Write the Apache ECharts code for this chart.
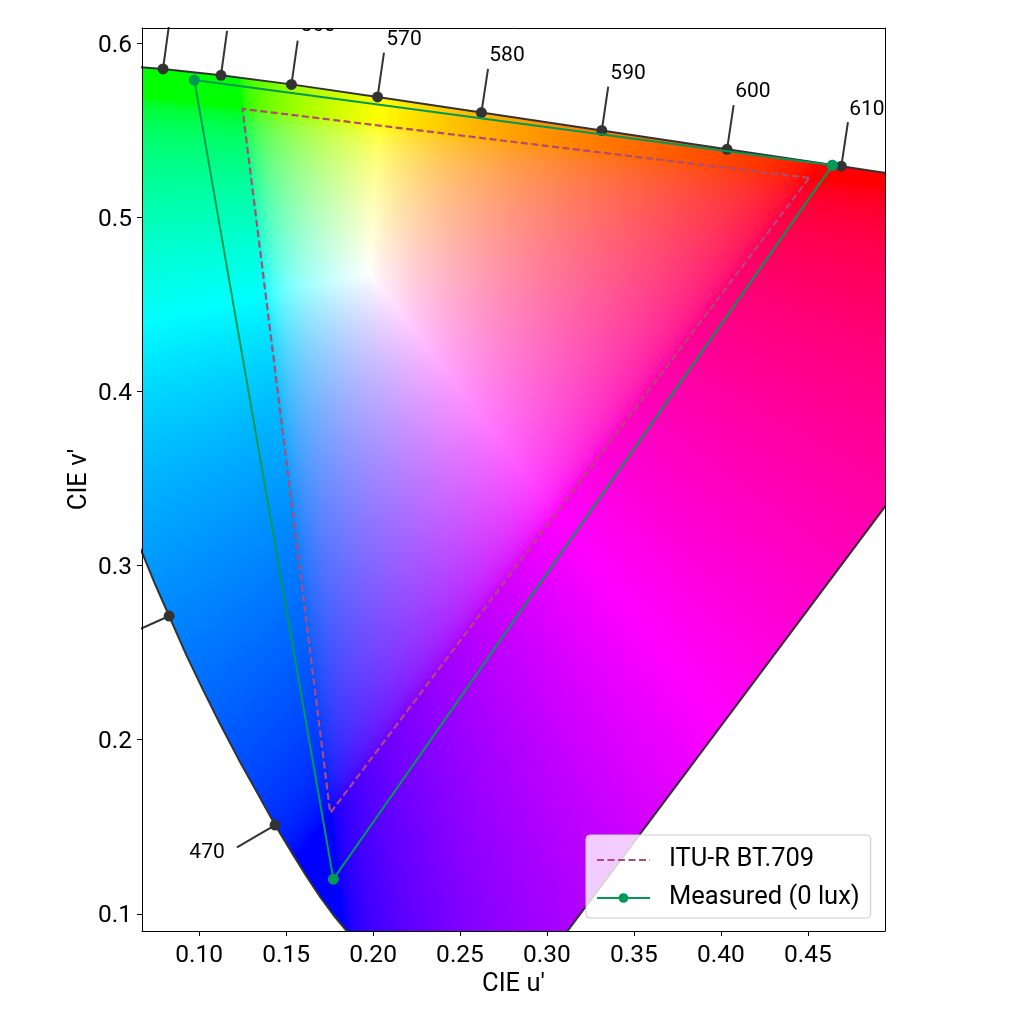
<!DOCTYPE html>
<html>
<head>
<meta charset="utf-8">
<title>CIE u'v' gamut</title>
<script src="https://cdn.jsdelivr.net/npm/echarts@6/dist/echarts.min.js"></script>
<style>
  html, body { margin: 0; padding: 0; background: #fff; }
  #main { width: 1024px; height: 1024px; }
</style>
</head>
<body>
<div id="main"></div>
<script>
const xRange = [0.0672, 0.4943];
const yRange = [0.0901, 0.6090];
const xTicks = [0.1, 0.15, 0.2, 0.25, 0.3, 0.35, 0.4, 0.45];
const yTicks = [0.1, 0.2, 0.3, 0.4, 0.5, 0.6];

// spectral locus (runs past the axes on purpose, the grid clips it)
const locus = [
  [0.0035, 0.5131], [0.0231, 0.5837], [0.0501, 0.5868], [0.0643, 0.5866], [0.0793, 0.5855],
  [0.1126, 0.5818], [0.1531, 0.5766], [0.2026, 0.5694], [0.2623, 0.5604], [0.3315, 0.5501],
  [0.4035, 0.5393], [0.4692, 0.5296], [0.5202, 0.5219], [0.6234, 0.5065], [0.2568, 0.0166],
  [0.2461, 0.0226], [0.2161, 0.0550], [0.2033, 0.0688], [0.1849, 0.0901], [0.1772, 0.0993],
  [0.1695, 0.1098], [0.1619, 0.1213], [0.1542, 0.1337], [0.1437, 0.1510], [0.1332, 0.1699],
  [0.1226, 0.1890], [0.1121, 0.2090], [0.1025, 0.2282], [0.0929, 0.2482], [0.0828, 0.2711],
  [0.0745, 0.2899], [0.0678, 0.3062], [0.0521, 0.3427]
];

const wavelengths = ['540', '550', '560', '570', '580', '590', '600', '610', '470', '480'];
const markerPts = [
  [0.0793, 0.5855], [0.1126, 0.5818], [0.1531, 0.5766], [0.2026, 0.5694], [0.2623, 0.5604],
  [0.3315, 0.5501], [0.4035, 0.5393], [0.4692, 0.5296], [0.1437, 0.1510], [0.0828, 0.2711]
];
const leaderEnds = [
  [0.0828, 0.6113], [0.1161, 0.6073], [0.1567, 0.6017], [0.2063, 0.5949], [0.2661, 0.5855],
  [0.3352, 0.5753], [0.4073, 0.5647], [0.4730, 0.5549], [0.1218, 0.1381], [0.0609, 0.2613]
];
const labelPts = [
  [0.0943, 0.6187], [0.1282, 0.6153], [0.1684, 0.6103], [0.2178, 0.6021], [0.2770, 0.5929],
  [0.3466, 0.5826], [0.4184, 0.5723], [0.4839, 0.5619], [0.1046, 0.1348], [0.0471, 0.2559]
];

const bt709 = [[0.4507, 0.5229], [0.1250, 0.5625], [0.1754, 0.1579], [0.4507, 0.5229]];
const measured = [[0.4640, 0.5301], [0.0973, 0.5791], [0.1772, 0.1199], [0.4640, 0.5301]];

const FONT = 'Roboto, sans-serif';
const GRID = { left: 142, top: 28, width: 743, height: 903 };

function gamma(c) {
  return c <= 0.0031308 ? 12.92 * c : 1.055 * Math.pow(c, 1 / 2.4) - 0.055;
}

// chromaticity to a displayable colour at full brightness
function uvToRgb(u, v) {
  const d = 6 * u - 16 * v + 12;
  const x = 9 * u / d;
  const y = 4 * v / d;
  const X = x / y;
  const Z = (1 - x - y) / y;
  let r = Math.max(0, 3.2406 * X - 1.5372 - 0.4986 * Z);
  let g = Math.max(0, -0.9689 * X + 1.8758 + 0.0415 * Z);
  let b = Math.max(0, 0.0557 * X - 0.2040 + 1.0570 * Z);
  const m = Math.max(r, g, b) || 1;
  return [gamma(r / m) * 255, gamma(g / m) * 255, gamma(b / m) * 255];
}

let gamutCanvas = null;

function buildGamut(api, rect) {
  const canvas = document.createElement('canvas');
  canvas.width = rect.width;
  canvas.height = rect.height;
  const ctx = canvas.getContext('2d');
  const img = ctx.createImageData(rect.width, rect.height);
  for (let j = 0; j < rect.height; j++) {
    for (let i = 0; i < rect.width; i++) {
      const u = xRange[0] + (i + 0.5) / rect.width * (xRange[1] - xRange[0]);
      const v = yRange[1] - (j + 0.5) / rect.height * (yRange[1] - yRange[0]);
      const c = uvToRgb(u, v);
      const k = (j * rect.width + i) * 4;
      img.data[k] = c[0];
      img.data[k + 1] = c[1];
      img.data[k + 2] = c[2];
      img.data[k + 3] = 255;
    }
  }
  ctx.putImageData(img, 0, 0);
  ctx.globalCompositeOperation = 'destination-in';
  ctx.beginPath();
  locus.forEach((p, i) => {
    const pt = api.coord(p);
    if (i === 0) ctx.moveTo(pt[0] - rect.x, pt[1] - rect.y);
    else ctx.lineTo(pt[0] - rect.x, pt[1] - rect.y);
  });
  ctx.closePath();
  ctx.fill();
  return canvas;
}

// leader lines, broken apart by null points
const leaders = [];
markerPts.forEach((p, i) => {
  leaders.push(p, leaderEnds[i], [null, null]);
});

const chart = echarts.init(document.getElementById('main'), null, { renderer: 'canvas' });

function valueAxis(position, range, ticks, digits, name, labelExtra, extra) {
  return Object.assign({
    type: 'value',
    position: position,
    min: range[0],
    max: range[1],
    z: 10,
    name: name,
    nameLocation: 'middle',
    nameMoveOverlap: false,
    nameTextStyle: { fontFamily: FONT, fontSize: 25.5, color: '#000' },
    splitLine: { show: false },
    axisLine: { show: true, onZero: false, lineStyle: { color: '#000', width: 1 } },
    axisTick: { show: true, length: 5, customValues: ticks, lineStyle: { color: '#000', width: 1 } },
    axisLabel: Object.assign({
      show: true,
      customValues: ticks,
      fontFamily: FONT,
      fontSize: 24.5,
      color: '#000',
      formatter: (val) => Number(val).toFixed(digits)
    }, labelExtra)
  }, extra);
}

function frameAxis(position, range) {
  return {
    type: 'value',
    position: position,
    min: range[0],
    max: range[1],
    z: 10,
    splitLine: { show: false },
    axisLine: { show: true, onZero: false, lineStyle: { color: '#000', width: 1 } },
    axisTick: { show: false },
    axisLabel: { show: false }
  };
}

chart.setOption({
  animation: false,
  backgroundColor: '#fff',
  grid: GRID,
  xAxis: [
    valueAxis('bottom', xRange, xTicks, 2, 'CIE u\u2032', { margin: 12 }, { nameGap: 41 }),
    frameAxis('top', xRange)
  ],
  yAxis: [
    // thin line box + top align drops the text about 2px onto the tick
    valueAxis('left', yRange, yTicks, 1, 'CIE v\u2032', { margin: 10, verticalAlign: 'top', lineHeight: 4 }, { nameGap: 49 }),
    frameAxis('right', yRange)
  ],
  legend: {
    left: 586,
    top: 835,
    orient: 'vertical',
    data: [
      { name: 'ITU-R BT.709', itemStyle: { opacity: 0 } },
      { name: 'Measured (0 lux)' }
    ],
    padding: [12, 11, 7, 10],
    itemWidth: 53,
    itemHeight: 12,
    itemGap: 12,
    backgroundColor: 'rgba(255,255,255,0.8)',
    borderColor: '#ccc',
    borderWidth: 1,
    borderRadius: 4,
    textStyle: { fontFamily: FONT, fontSize: 25.5, color: '#000', padding: [0, 0, 0, 14] }
  },
  series: [
    {
      type: 'custom',
      name: 'gamut',
      coordinateSystem: 'cartesian2d',
      silent: true,
      z: 1,
      data: [[xRange[0], yRange[0]]],
      renderItem(params, api) {
        const rect = params.coordSys;
        if (!gamutCanvas) gamutCanvas = buildGamut(api, rect);
        return {
          type: 'image',
          style: { image: gamutCanvas, x: rect.x, y: rect.y, width: rect.width, height: rect.height }
        };
      }
    },
    {
      type: 'line',
      name: 'locus',
      data: locus.concat([locus[0]]),
      showSymbol: false,
      symbol: 'none',
      z: 3,
      lineStyle: { color: '#333', width: 2 }
    },
    {
      type: 'line',
      name: 'leaders',
      data: leaders,
      connectNulls: false,
      showSymbol: false,
      symbol: 'none',
      z: 3,
      lineStyle: { color: '#333', width: 2 }
    },
    {
      type: 'scatter',
      name: 'wavelength points',
      data: markerPts,
      symbolSize: 11,
      z: 4,
      itemStyle: { color: '#333', opacity: 1 }
    },
    {
      type: 'custom',
      name: 'wavelength labels',
      coordinateSystem: 'cartesian2d',
      silent: true,
      z: 5,
      data: labelPts,
      renderItem(params, api) {
        const rect = params.coordSys;
        const pt = api.coord([api.value(0), api.value(1)]);
        return {
          type: 'text',
          clipPath: { type: 'rect', shape: { x: rect.x, y: rect.y, width: rect.width, height: rect.height } },
          style: {
            text: wavelengths[params.dataIndex],
            x: pt[0],
            y: pt[1],
            align: 'center',
            verticalAlign: 'middle',
            fontFamily: FONT,
            fontSize: 21,
            fill: '#000'
          }
        };
      }
    },
    {
      type: 'line',
      name: 'ITU-R BT.709',
      data: bt709,
      symbol: 'none',
      z: 6,
      color: '#b04a78',
      lineStyle: { color: '#b04a78', width: 2.2, type: [7, 3.5] }
    },
    {
      type: 'line',
      name: 'Measured (0 lux)',
      data: measured,
      symbol: 'circle',
      symbolSize: 11,
      z: 7,
      color: '#009955',
      itemStyle: { color: '#009955' },
      lineStyle: { color: '#009955', width: 2 }
    }
  ]
});
</script>
</body>
</html>
